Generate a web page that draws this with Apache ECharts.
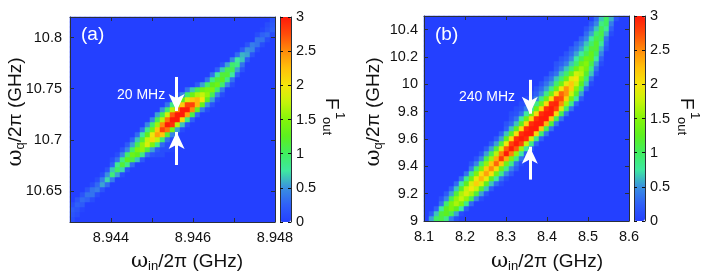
<!DOCTYPE html>
<html>
<head>
<meta charset="utf-8">
<script src="https://cdn.jsdelivr.net/npm/echarts@6/dist/echarts.min.js"></script>
<style>html,body{margin:0;padding:0;background:#fff}#c{width:708px;height:277px}</style>
</head>
<body>
<div id="c"></div>
<script>
// Each row, bottom to top: [first non-zero column, values...]; every other cell is 0.
const rowsA = [
[0,.1],[0,.15,.1],[0,.2,.15,.05],[0,.1,.25,.2],[1,.15,.3,.25,.1],[2,.15,.35,.35,.1],
[3,.15,.35,.4,.15],[4,.1,.3,.55,.3],[5,.1,.4,.7,.4],[6,.1,.5,.9,.55,.1],
[7,.15,.65,1.0,.7,.15],[8,.25,.8,1.15,.85,.3],[8,.1,.35,.85,1.25,1.1,.65,.2],
[9,.1,.45,.95,1.35,1.25,.85,.35,.15,.1,.1],[10,.15,.45,.95,1.45,1.55,1.15,.55,.2,.1,.1,.05],
[11,.2,.55,1.05,1.55,1.85,1.45,.85,.3,.1],[12,.25,.65,1.15,1.75,2.1,1.75,.95,.35,.1],
[13,.3,.75,1.25,1.95,2.4,2.2,1.2,.45,.1],[14,.35,.85,1.4,2.2,2.8,2.6,1.4,.55,.1],
[15,.45,.95,1.6,2.5,3.0,2.9,1.7,.65,.15],[16,.45,1.05,1.7,2.6,3.0,3.0,2.1,.9,.25],
[17,.55,1.05,1.8,2.7,3.0,3.0,2.4,1.1,.3],[18,.5,.95,1.7,2.5,3.0,3.0,2.5,1.3,.4,.1],
[19,.35,.85,1.5,2.2,2.8,2.8,2.3,1.3,.5,.15],[20,.2,.65,1.25,1.85,2.2,2.3,2.0,1.25,.55,.1],
[21,.15,.45,.95,1.35,1.65,1.75,1.55,1.05,.45,.1],[23,.35,.65,1.05,1.35,1.45,1.45,.95,.4],
[25,.2,.55,.95,1.25,1.35,.95,.45,.1],[27,.35,.85,1.15,1.25,.85,.35],[28,.35,.75,1.15,1.15,.75,.25],
[29,.25,.65,1.05,1.05,.55,.15],[30,.15,.55,.95,.85,.35],[32,.45,.75,.65,.2],[33,.3,.6,.55,.15],
[34,.2,.5,.45,.1],[35,.15,.4,.35,.1],[37,.35,.35,.1],[37,.1,.25,.3,.1],[38,.05,.15,.25],
[39,.1,.2],[40,.15]
];
const rowsB = [
[1,.55,1.0,1.1,.85,.4,.1],[1,.2,.65,1.15,1.25,1.05,.55,.1],[2,.25,.75,1.25,1.45,1.25,.75,.2],
[3,.35,.95,1.45,1.65,1.45,.85,.3],[3,.15,.45,1.05,1.55,1.75,1.55,1.05,.45,.1],
[4,.2,.55,1.15,1.65,1.85,1.65,1.15,.55,.15],[5,.25,.65,1.2,1.75,2.0,1.75,1.2,.65,.2],
[6,.3,.75,1.25,1.85,2.15,1.85,1.25,.65,.3,.1],[7,.35,.85,1.35,1.95,2.3,1.95,1.25,.75,.35,.1],
[8,.35,.85,1.45,2.05,2.4,2.05,1.35,.85,.45,.2],[9,.4,.95,1.45,2.15,2.5,2.1,1.35,.85,.45,.2],
[9,.15,.45,.95,1.55,2.2,2.65,2.2,1.35,.85,.35,.1],[10,.15,.45,1.05,1.6,2.35,2.85,2.35,1.45,.85,.35],
[11,.15,.55,1.05,1.7,2.55,3.0,2.55,1.55,.75,.25],[12,.2,.55,1.15,1.85,2.7,3.0,2.7,1.6,.75,.25],
[13,.2,.55,1.15,1.95,2.8,3.0,2.8,1.75,.85,.25],[14,.2,.55,1.25,2.05,2.9,3.0,2.9,1.85,.85,.25],
[15,.25,.65,1.25,2.05,2.9,3.0,3.0,2.1,.95,.35],[16,.25,.65,1.25,2.05,2.9,3.0,3.0,2.2,1.05,.35],
[16,.15,.3,.65,1.25,2.1,2.9,3.0,3.0,2.3,1.15,.35],[17,.15,.35,.75,1.35,2.1,2.9,3.0,3.0,2.2,1.05,.35],
[17,.1,.15,.35,.75,1.35,2.1,2.9,3.0,3.0,2.1,1.05,.35],[18,.1,.15,.4,.75,1.35,2.1,2.9,3.0,2.8,1.85,.95,.35],
[19,.1,.15,.45,.85,1.35,2.1,2.9,2.95,2.5,1.6,.85,.25],[20,.1,.2,.45,.85,1.35,2.05,2.8,2.75,2.15,1.4,.75,.2],
[21,.1,.25,.5,.85,1.35,2.05,2.65,2.45,1.8,1.2,.55],[22,.15,.3,.55,.85,1.35,1.95,2.45,2.15,1.5,.95,.3],
[23,.15,.35,.55,.95,1.35,1.9,2.2,1.8,1.25,.65,.1],[24,.2,.35,.65,.95,1.35,1.9,2.0,1.5,.95,.35],
[25,.2,.35,.65,.95,1.35,1.8,1.7,1.2,.65,.15],[26,.2,.4,.65,.95,1.35,1.6,1.4,.85,.35],
[26,.15,.25,.4,.65,.95,1.35,1.5,1.1,.55,.1],[27,.15,.25,.45,.75,1.05,1.35,1.3,.75,.25],
[28,.15,.3,.55,.75,1.05,1.3,1.0,.45],[29,.2,.35,.55,.85,1.15,1.15,.6,.15],
[30,.25,.4,.65,.95,1.2,.8,.25],[31,.25,.45,.75,1.1,1.0,.35],[32,.3,.55,.95,1.1,.6,.1],
[32,.15,.35,.65,1.05,.8,.25],[33,.2,.45,.85,1.0,.4],[34,.3,.65,1.0,.6,.15]
];
const xRangeA = [8.943, 8.948], yRangeA = [10.62, 10.82];
const xRangeB = [8.1, 8.6], yRangeB = [9, 10.5];
const xTicksA = [8.944, 8.945, 8.946, 8.947, 8.948];
const xLabelsA = ['8.944', '8.946', '8.948'];
const yTicksA = [10.65, 10.7, 10.75, 10.8];
const xTicksB = [8.1, 8.2, 8.3, 8.4, 8.5, 8.6];
const yTicksB = [9, 9.2, 9.4, 9.6, 9.8, 10, 10.2, 10.4];
const barTicks = [0, 0.5, 1, 1.5, 2, 2.5, 3];
const arrowsA = [[8.9456, 10.7615, 10.7283], [8.9456, 10.6756, 10.7078]];
const arrowsB = [[8.358, 10.033, 9.785], [8.358, 9.303, 9.544]];
const N = 41;
const colours = ['#2440ff','#2f60f8','#3a90e0','#3fe8a0','#40ee60','#5cf020','#84f50a','#c4f40a','#f5e60a','#ffc00a','#ff8c0a','#ff4c0a','#ff1a0a'];
const FONT = '"Liberation Sans", Arial, sans-serif';
const INK = '#2a2f3a';

function cells(rows) {
  const out = [];
  for (let r = 0; r < N; r++) for (let c = 0; c < N; c++) {
    const row = rows[r], i = c - row[0] + 1;
    out.push([c, r, (i >= 1 && i < row.length) ? row[i] : 0]);
  }
  return out;
}
const idx = Array.from({length: N}, (_, i) => String(i));
const grids = [
  {left: 70, top: 17, width: 205, height: 205},
  {left: 424, top: 16, width: 205, height: 205},
  {left: 280, top: 17, width: 11, height: 205},
  {left: 634, top: 16, width: 11, height: 205}
];
const xAxis = [], yAxis = [], series = [];
function frameAxis(grid, pos, range, ticks, labels, fmt, margin) {
  return {
    type: 'value', gridIndex: grid, position: pos, min: range[0], max: range[1], z: 6,
    axisLine: {show: true, onZero: false, lineStyle: {color: INK, width: 1}},
    axisTick: {show: true, inside: true, length: 4, customValues: ticks, lineStyle: {color: INK, width: 1}},
    axisLabel: labels ? {show: true, customValues: labels, formatter: fmt, margin: margin, hideOverlap: false, showMinLabel: true, showMaxLabel: true,
      fontFamily: FONT, fontSize: 14.5, color: '#111'} : {show: false},
    splitLine: {show: false}
  };
}
function panel(g, rows, xr, yr, xt, xl, xf, yt, yf, ymargin, arrows) {
  const xi = xAxis.length, yi = yAxis.length;
  xAxis.push({type: 'category', gridIndex: g, data: idx, show: false});
  yAxis.push({type: 'category', gridIndex: g, data: idx, show: false});
  xAxis.push(frameAxis(g, 'bottom', xr, xt, xl, xf, 8));
  xAxis.push(frameAxis(g, 'top', xr, xt, null));
  yAxis.push(frameAxis(g, 'left', yr, yt, yt, yf, ymargin));
  yAxis.push(frameAxis(g, 'right', yr, yt, null));
  series.push({type: 'heatmap', xAxisIndex: xi, yAxisIndex: yi, data: cells(rows), itemStyle: {borderWidth: 0}, progressive: 0, animation: false, emphasis: {disabled: true}});
  series.push({type: 'line', xAxisIndex: xi + 1, yAxisIndex: yi + 1, data: [], z: 8, animation: false, markLine: {
    silent: true, animation: false, precision: 6,
    lineStyle: {color: '#fff', width: 3, type: 'solid'}, label: {show: false},
    symbol: ['none', 'arrow'], symbolSize: [12, 17],
    data: arrows.map(a => [{coord: [a[0], a[1]]}, {coord: [a[0], a[2]]}])
  }});
}
panel(0, rowsA, xRangeA, yRangeA, xTicksA, xLabelsA.map(Number), v => v.toFixed(3), yTicksA, v => String(+v.toFixed(2)), 8, arrowsA);
panel(1, rowsB, xRangeB, yRangeB, xTicksB, xTicksB, v => String(+v.toFixed(1)), yTicksB, v => String(+v.toFixed(1)), 6, arrowsB);
[2, 3].forEach(g => {
  xAxis.push({type: 'value', gridIndex: g, show: false, min: 0, max: 1});
  const base = {type: 'value', gridIndex: g, min: 0, max: 3, z: 7, splitLine: {show: false},
    axisLine: {show: true, lineStyle: {color: INK, width: 1}}, axisTick: {show: true, inside: true, length: 3, customValues: barTicks, lineStyle: {color: '#111'}}};
  yAxis.push(Object.assign({}, base, {position: 'left', axisLabel: {show: false}}));
  yAxis.push(Object.assign({}, base, {position: 'right', axisLabel: {show: true, customValues: barTicks, margin: 5, fontFamily: FONT, fontSize: 14.5, color: '#111', showMinLabel: true, showMaxLabel: true, formatter: v => String(v)}}));
});
const vm = (si, left, top) => ({type: 'continuous', seriesIndex: si, min: 0, max: 3, left, top, itemWidth: 11, itemHeight: 205, padding: 0, text: null, calculable: false, showLabel: false, inRange: {color: colours}, borderWidth: 0, hoverLink: false, realtime: false, z: 5});
const T = (x, y, s, o) => Object.assign({type: 'text', x, y, z: 20, silent: true, style: Object.assign({fontFamily: FONT, fill: '#111'}, s)}, o || {});
const rich = {t: {fontFamily: FONT, fontSize: 19, color: '#111'}, w: {fontFamily: '"DejaVu Serif", serif', fontSize: 21, color: '#111'}, s: {fontFamily: FONT, fontSize: 13, color: '#111', verticalAlign: 'bottom', padding: [8, 0, 0, 0]}};
const titleX = (x, y, sub) => T(x, y, {text: `{w|ω}{s|${sub}}{t|/2π (GHz)}`, rich, align: 'center', verticalAlign: 'middle'});
const titleY = (x, y, sub) => T(x, y, {text: `{w|ω}{s|${sub}}{t|/2π (GHz)}`, rich, align: 'center', verticalAlign: 'middle'}, {rotation: Math.PI / 2});
const F = (x, y) => [
  T(x, y, {text: 'F', fontSize: 19, align: 'left', verticalAlign: 'bottom'}, {rotation: -Math.PI / 2}),
  T(x + 11, y + 14, {text: '1', fontSize: 13, align: 'left', verticalAlign: 'bottom'}, {rotation: -Math.PI / 2}),
  T(x - 2, y + 19, {text: 'out', fontSize: 13, align: 'left', verticalAlign: 'bottom'}, {rotation: -Math.PI / 2})
];
const graphic = [
  T(81, 35, {text: '(a)', fontSize: 19, fill: '#fff', verticalAlign: 'middle'}),
  T(435, 35, {text: '(b)', fontSize: 19, fill: '#fff', verticalAlign: 'middle'}),
  T(117, 95, {text: '20 MHz', fontSize: 14, fill: '#fff', verticalAlign: 'middle'}),
  T(459, 97, {text: '240 MHz', fontSize: 14, fill: '#fff', verticalAlign: 'middle'}),
  titleX(187, 262, 'in'), titleX(547, 262, 'in'),
  titleY(16, 112, 'q'), titleY(374, 112, 'q'),
  ...F(322, 98), ...F(677, 98)
];
const chart = echarts.init(document.getElementById('c'), null, {renderer: 'canvas'});
chart.setOption({
  animation: false, backgroundColor: '#fff',
  grid: grids, xAxis, yAxis, series,
  visualMap: [vm(0, 280, 17), vm(2, 634, 16)],
  graphic: {elements: graphic}
});
</script>
</body>
</html>
